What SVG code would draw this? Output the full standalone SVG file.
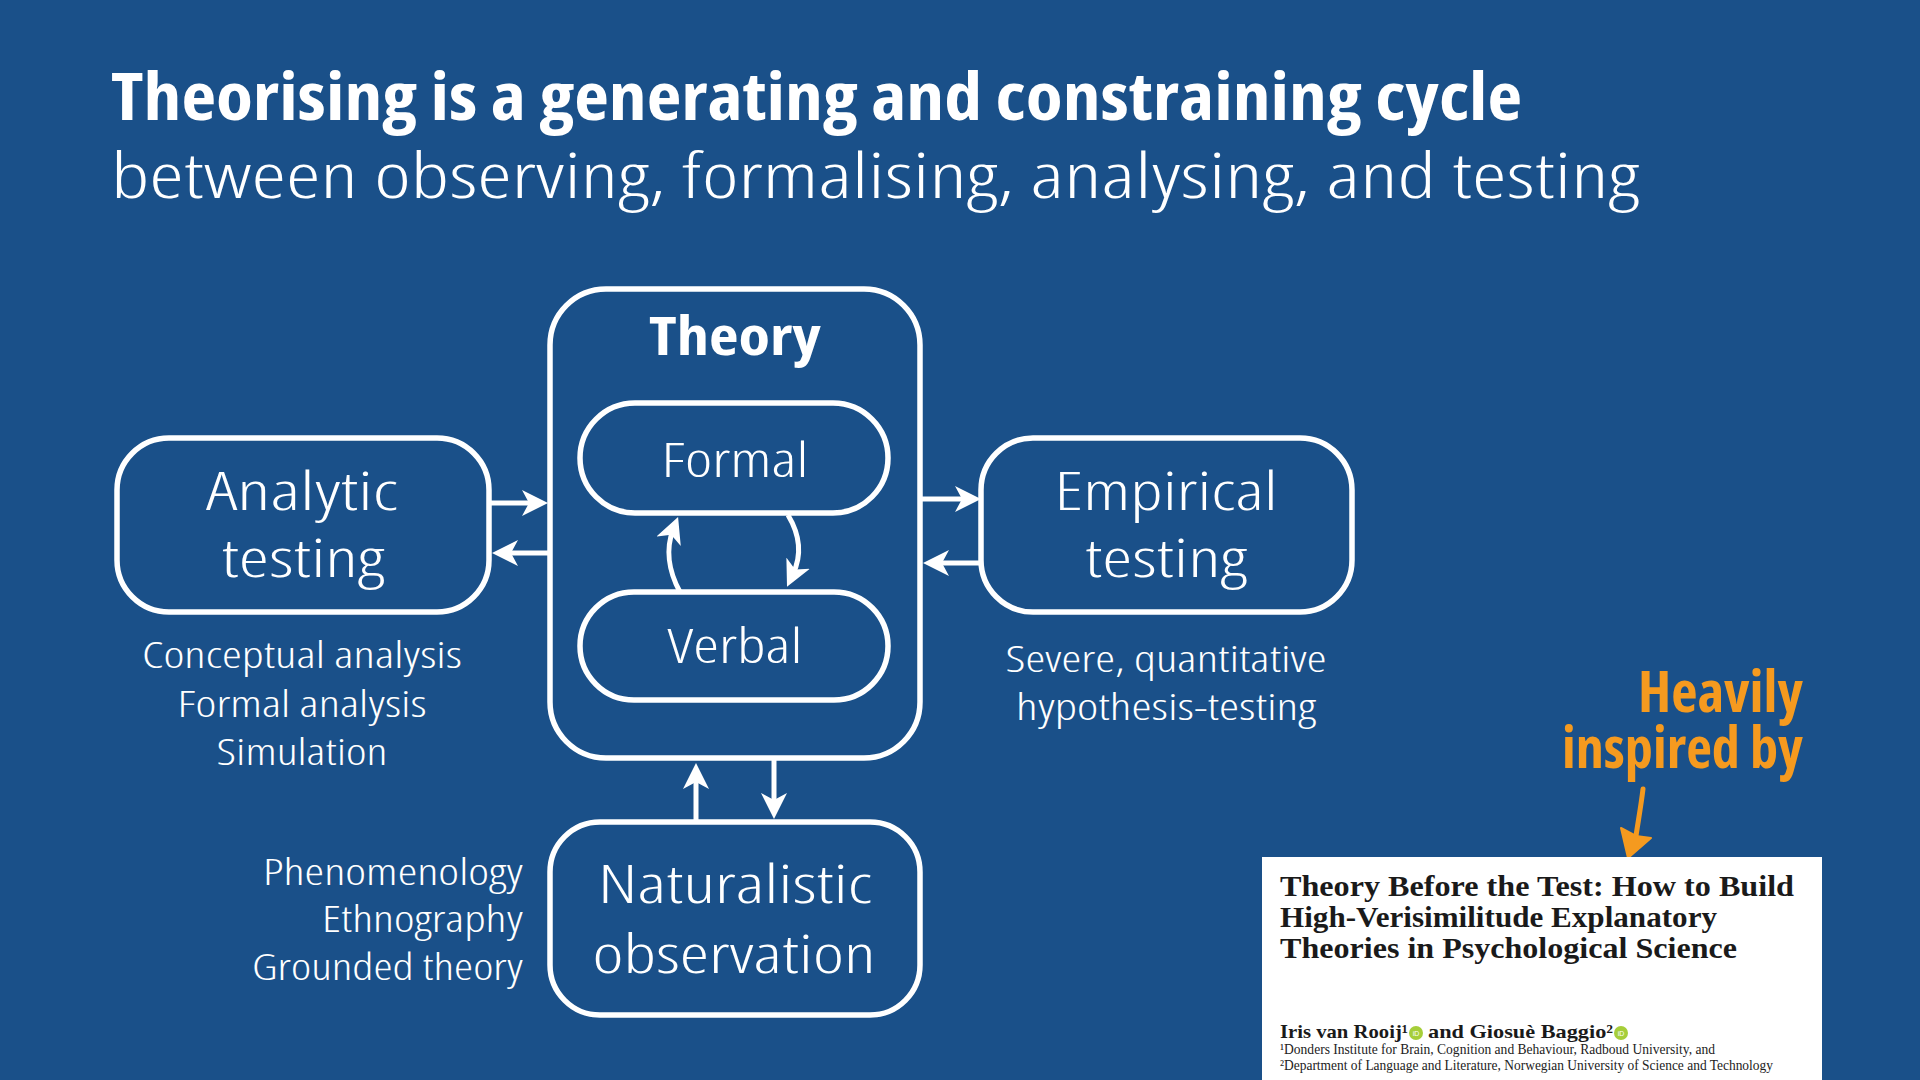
<svg xmlns="http://www.w3.org/2000/svg" width="1920" height="1080" viewBox="0 0 1920 1080">
<defs>
<style>
.bg{fill:#1a5089}
.box{fill:none;stroke:#ffffff;stroke-width:5.5}
.lbl{fill:#ffffff;font-family:"Open Sans","Noto Sans","DejaVu Sans",sans-serif;font-weight:300;font-stretch:condensed}
.bold{fill:#ffffff;font-family:"Open Sans","Noto Sans","DejaVu Sans",sans-serif;font-weight:700;font-stretch:condensed}
.conn{fill:none;stroke:#ffffff;stroke-width:5;marker-end:url(#ah)}
.orange{fill:#f59a1f;font-family:"Open Sans","DejaVu Sans",sans-serif;font-weight:700;font-stretch:condensed}
.ptitle{fill:#1a1a1a;font-family:"Liberation Serif","Times New Roman",serif;font-weight:700}
.paff{fill:#222222;font-family:"Liberation Serif","Times New Roman",serif}
</style>
<marker id="ah" markerUnits="userSpaceOnUse" viewBox="0 0 26 26" markerWidth="26" markerHeight="26" refX="12" refY="13" orient="auto">
<path d="M0,0 L26,13 L0,26 L7,13 Z" fill="#ffffff"/>
</marker>
</defs>
<rect class="bg" x="0" y="0" width="1920" height="1080"/>

<g id="title">
<text class="bold" x="111" y="120" font-size="66" textLength="1411" lengthAdjust="spacingAndGlyphs">Theorising is a generating and constraining cycle</text>
<text class="lbl" x="111" y="198" font-size="62" textLength="1528" lengthAdjust="spacingAndGlyphs">between observing, formalising, analysing, and testing</text>
</g>

<g id="connectors">
<path class="conn" d="M490,503 H534"/>
<path class="conn" d="M550,553 H506"/>
<path class="conn" d="M922,499 H967"/>
<path class="conn" d="M981,563 H937"/>
<path class="conn" d="M696,822 V777"/>
<path class="conn" d="M774,760 V805"/>
<path class="conn" d="M680,592 C668,570 666,548 673,530"/>
<path class="conn" d="M788,515 C800,535 802,555 793,574"/>
</g>

<g id="theory">
<rect class="box" x="550" y="289" width="370" height="469" rx="56"/>
<text class="bold" x="735" y="355" font-size="54" text-anchor="middle" textLength="172" lengthAdjust="spacingAndGlyphs">Theory</text>
</g>

<g id="formal">
<rect class="box" x="580" y="403" width="308" height="110" rx="55"/>
<text class="lbl" x="735" y="477" font-size="48" text-anchor="middle" textLength="147" lengthAdjust="spacingAndGlyphs">Formal</text>
</g>

<g id="verbal">
<rect class="box" x="580" y="592" width="308" height="108" rx="54"/>
<text class="lbl" x="735" y="663" font-size="48" text-anchor="middle" textLength="135" lengthAdjust="spacingAndGlyphs">Verbal</text>
</g>

<g id="analytic">
<rect class="box" x="117" y="438" width="372" height="174" rx="52"/>
<text class="lbl" x="302" y="510" font-size="53" text-anchor="middle" textLength="192" lengthAdjust="spacingAndGlyphs">Analytic</text>
<text class="lbl" x="303" y="577" font-size="53" text-anchor="middle" textLength="163" lengthAdjust="spacingAndGlyphs">testing</text>
</g>

<g id="analytic-methods">
<text class="lbl" x="302" y="668" font-size="36" text-anchor="middle" textLength="320" lengthAdjust="spacingAndGlyphs">Conceptual analysis</text>
<text class="lbl" x="302" y="717" font-size="36" text-anchor="middle" textLength="249" lengthAdjust="spacingAndGlyphs">Formal analysis</text>
<text class="lbl" x="302" y="765" font-size="36" text-anchor="middle" textLength="171" lengthAdjust="spacingAndGlyphs">Simulation</text>
</g>

<g id="empirical">
<rect class="box" x="981" y="438" width="371" height="174" rx="52"/>
<text class="lbl" x="1166" y="510" font-size="53" text-anchor="middle" textLength="223" lengthAdjust="spacingAndGlyphs">Empirical</text>
<text class="lbl" x="1166" y="577" font-size="53" text-anchor="middle" textLength="162" lengthAdjust="spacingAndGlyphs">testing</text>
</g>

<g id="empirical-methods">
<text class="lbl" x="1166" y="672" font-size="36" text-anchor="middle" textLength="321" lengthAdjust="spacingAndGlyphs">Severe, quantitative</text>
<text class="lbl" x="1166" y="720" font-size="36" text-anchor="middle" textLength="300" lengthAdjust="spacingAndGlyphs">hypothesis-testing</text>
</g>

<g id="naturalistic">
<rect class="box" x="550" y="822" width="370" height="193" rx="50"/>
<text class="lbl" x="735" y="903" font-size="53" text-anchor="middle" textLength="274" lengthAdjust="spacingAndGlyphs">Naturalistic</text>
<text class="lbl" x="734" y="973" font-size="53" text-anchor="middle" textLength="283" lengthAdjust="spacingAndGlyphs">observation</text>
</g>

<g id="observation-methods">
<text class="lbl" x="523" y="885" font-size="36" text-anchor="end" textLength="260" lengthAdjust="spacingAndGlyphs">Phenomenology</text>
<text class="lbl" x="523" y="932" font-size="36" text-anchor="end" textLength="201" lengthAdjust="spacingAndGlyphs">Ethnography</text>
<text class="lbl" x="523" y="980" font-size="36" text-anchor="end" textLength="271" lengthAdjust="spacingAndGlyphs">Grounded theory</text>
</g>

<g id="inspired">
<text class="orange" x="1803" y="712" font-size="58" text-anchor="end" textLength="165" lengthAdjust="spacingAndGlyphs">Heavily</text>
<text class="orange" x="1803" y="768" font-size="58" text-anchor="end" textLength="241" lengthAdjust="spacingAndGlyphs">inspired by</text>
<path d="M1643,789 C1641,806 1638,822 1636,836" fill="none" stroke="#f59a1f" stroke-width="5" stroke-linecap="round"/>
<path d="M1628,858 L1621,828 L1636,836 L1651,838 Z" fill="#f59a1f" stroke="#f59a1f" stroke-width="2" stroke-linejoin="round"/>
</g>

<g id="paper">
<rect x="1262" y="857" width="560" height="223" fill="#ffffff"/>
<text class="ptitle" x="1280" y="896" font-size="29" textLength="514" lengthAdjust="spacingAndGlyphs">Theory Before the Test: How to Build</text>
<text class="ptitle" x="1280" y="927" font-size="29" textLength="437" lengthAdjust="spacingAndGlyphs">High-Verisimilitude Explanatory</text>
<text class="ptitle" x="1280" y="958" font-size="29" textLength="457" lengthAdjust="spacingAndGlyphs">Theories in Psychological Science</text>
<text class="ptitle" x="1280" y="1038" font-size="19" textLength="128" lengthAdjust="spacingAndGlyphs">Iris van Rooij¹</text>
<circle cx="1416" cy="1033" r="7" fill="#a6ce39"/>
<text x="1416" y="1035.5" font-size="7" fill="#ffffff" font-family="Liberation Sans, sans-serif" text-anchor="middle">iD</text>
<text class="ptitle" x="1428" y="1038" font-size="19" textLength="185" lengthAdjust="spacingAndGlyphs">and Giosuè Baggio²</text>
<circle cx="1621" cy="1033" r="7" fill="#a6ce39"/>
<text x="1621" y="1035.5" font-size="7" fill="#ffffff" font-family="Liberation Sans, sans-serif" text-anchor="middle">iD</text>
<text class="paff" x="1280" y="1054" font-size="14" textLength="435" lengthAdjust="spacingAndGlyphs">¹Donders Institute for Brain, Cognition and Behaviour, Radboud University, and</text>
<text class="paff" x="1280" y="1070" font-size="14" textLength="493" lengthAdjust="spacingAndGlyphs">²Department of Language and Literature, Norwegian University of Science and Technology</text>
</g>
</svg>
